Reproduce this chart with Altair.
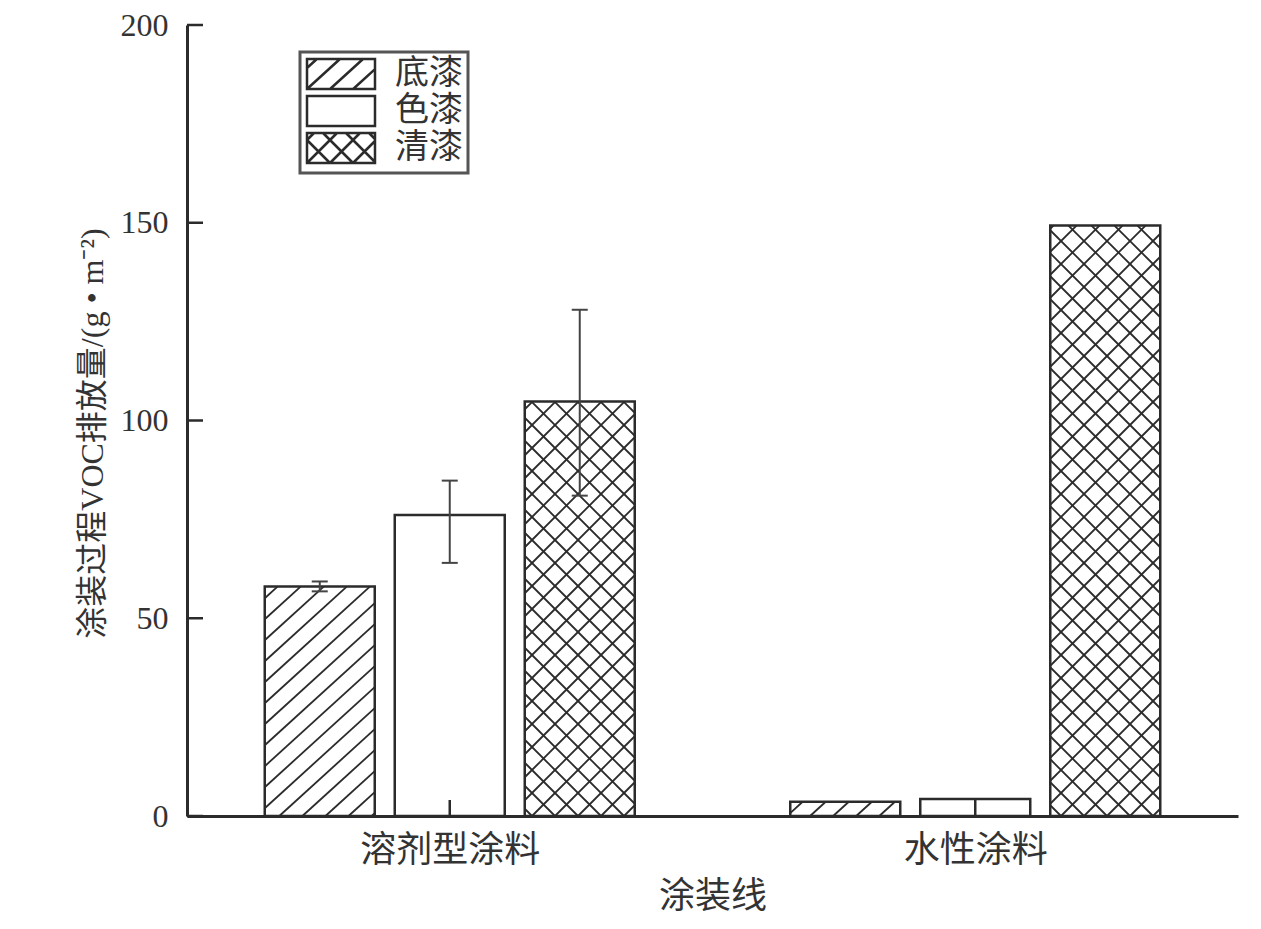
import math
import altair as alt
import pandas as pd

# ---------------- data ----------------
groups = ["溶剂型涂料", "水性涂料"]
series = ["底漆", "色漆", "清漆"]
solvent_values = [58.0, 76.1, 104.8]
water_values = [3.6, 4.3, 149.3]
solvent_err_low = [56.8, 64.0, 81.0]
solvent_err_high = [59.3, 84.8, 128.0]
y_ticks = [0, 50, 100, 150, 200]

x_title = "涂装线"
y_title = "涂装过程VOC排放量/(g • m⁻²)"

# ---------------- layout / style ----------------
W, H = 1051, 791
X_MAX = 4.0
Y_MAX = 200.0
PXU = W / X_MAX
PYU = H / Y_MAX
BAR_STEP = 130
BAR_W = 110
CAP = 8
TICK_LEN = 16
FONT = "'Liberation Serif', 'Noto Sans CJK SC'"
INK = "#2b2b2b"
TEXT = "#333333"

# hatch styles per series: (slope in px, vertical spacing in px)
hatch_styles = {"底漆": [(0.91, 21.0)], "色漆": [], "清漆": [(1.0, 23.0), (-1.0, 23.0)]}


def hatch_segments(X0, X1, Y0, Y1, slope, spacing):
    corners = [(X0, Y0), (X0, Y1), (X1, Y0), (X1, Y1)]
    ks = [y - slope * x for x, y in corners]
    n0 = math.ceil(min(ks) / spacing)
    n1 = math.floor(max(ks) / spacing)
    segs = []
    for n in range(n0, n1 + 1):
        k = n * spacing
        a, b = (Y0 - k) / slope, (Y1 - k) / slope
        lo, hi = max(X0, min(a, b)), min(X1, max(a, b))
        if hi - lo > 0.5:
            segs.append((lo, slope * lo + k, hi, slope * hi + k))
    return segs


# bars table
rows = []
for gi, (g, vals) in enumerate(zip(groups, [solvent_values, water_values])):
    for si, (s, v) in enumerate(zip(series, vals)):
        xc = 2 * gi + 1 + (si - 1) * BAR_STEP / PXU
        rows.append(dict(group=g, series=s, value=v, xc=xc,
                         x0=xc - BAR_W / 2 / PXU, x1=xc + BAR_W / 2 / PXU))
bars = pd.DataFrame(rows)

# hatch lines table (derived from the bars through the pixel/scale ratio)
hrows = []
for r in rows:
    for slope, spacing in hatch_styles[r["series"]]:
        for xa, ya, xb, yb in hatch_segments(r["x0"] * PXU, r["x1"] * PXU, 0, r["value"] * PYU, slope, spacing):
            hrows.append(dict(x0=xa / PXU, x1=xb / PXU, value=ya / PYU, v2=yb / PYU))
hatch = pd.DataFrame(hrows)

# error bars (solvent group only)
erows, crows = [], []
for si, s in enumerate(series):
    xc = bars[(bars.group == groups[0]) & (bars.series == s)].xc.iloc[0]
    erows.append(dict(x0=xc, value=solvent_err_low[si], v2=solvent_err_high[si]))
    for yv in (solvent_err_low[si], solvent_err_high[si]):
        crows.append(dict(x0=xc - CAP / PXU, x1=xc + CAP / PXU, value=yv))
errs = pd.DataFrame(erows)
caps = pd.DataFrame(crows)

yt = pd.DataFrame({"value": y_ticks})
xt = pd.DataFrame({"x0": [2 * i + 1 for i in range(len(groups))]})

# legend swatch paths
SW, SH, SU = 68, 30, 15


def swatch_path(styles):
    right = SW / SU - 1
    p = f"M-1,-1H{right:.3f}V1H-1Z"
    for slope, spacing in styles:
        for xa, ya, xb, yb in hatch_segments(0, SW, 0, SH, slope, spacing):
            p += f"M{xa / SU - 1:.3f},{1 - ya / SU:.3f}L{xb / SU - 1:.3f},{1 - yb / SU:.3f}"
    return p


paths = [swatch_path(hatch_styles[s]) for s in series]

# axis label expression
label_expr = "''"
for gi in reversed(range(len(groups))):
    label_expr = f"datum.value == {2 * gi + 1} ? '{groups[gi]}' : {label_expr}"

xs = alt.Scale(domain=[0, X_MAX], nice=False, zero=False)
ys = alt.Scale(domain=[0, Y_MAX], nice=False, zero=False)

x_axis = alt.Axis(values=[2 * i + 1 for i in range(len(groups))], labelExpr=label_expr,
                  ticks=False, grid=False, labelPadding=17, labelFontSize=36, labelFlush=False,
                  labelLimit=600, labelAngle=0, domainColor=INK, domainWidth=3, title=x_title,
                  titleFontSize=36, titleY=80, titleBaseline="middle", titleFontWeight="normal")
y_axis = alt.Axis(values=y_ticks, ticks=False, grid=False, labelPadding=19, labelFontSize=32,
                  domainColor=INK, domainWidth=3, title=y_title, titleFontSize=32,
                  titleLimit=800, titleX=-95, titleY=408, titleAlign="center",
                  titleBaseline="middle", titleAngle=270, titleFontWeight="normal")


def X(field):
    return alt.X(field, type="quantitative", scale=xs, axis=x_axis)


def Y(field):
    return alt.Y(field, type="quantitative", scale=ys, axis=y_axis)


fill_layer = alt.Chart(bars).mark_rect(fill="white").encode(
    x=X("x0"), x2="x1:Q", y=Y("value"), y2=alt.datum(0))

hatch_layer = alt.Chart(hatch).mark_rule(stroke=INK, strokeWidth=1.8).encode(
    x=X("x0"), x2="x1:Q", y=Y("value"), y2="v2:Q")

outline_layer = alt.Chart(bars).mark_rect(fill="white", fillOpacity=0, stroke=INK, strokeWidth=2.5).encode(
    x=X("x0"), x2="x1:Q", y=Y("value"), y2=alt.datum(0))

err_layer = alt.Chart(errs).mark_rule(stroke="#444444", strokeWidth=2).encode(
    x=X("x0"), y=Y("value"), y2="v2:Q")

cap_layer = alt.Chart(caps).mark_rule(stroke="#444444", strokeWidth=2).encode(
    x=X("x0"), x2="x1:Q", y=Y("value"))

ytick_layer = alt.Chart(yt).mark_rule(stroke=INK, strokeWidth=2.5).encode(
    x=alt.value(0), x2=alt.value(TICK_LEN), y=Y("value"))

xtick_layer = alt.Chart(xt).mark_rule(stroke=INK, strokeWidth=2.5).encode(
    x=X("x0"), y=alt.value(H), y2=alt.value(H - TICK_LEN))

legend_layer = alt.Chart(bars).mark_point(filled=False, opacity=0, color=INK, strokeWidth=2.5).encode(
    x=X("x0"), y=Y("value"),
    shape=alt.Shape("series:N", scale=alt.Scale(domain=series, range=paths),
                    legend=alt.Legend(title=None, orient="none", legendX=113, legendY=27,
                                      symbolSize=900, symbolStrokeWidth=2.5, symbolStrokeColor=INK,
                                      symbolOpacity=1, labelFontSize=34, labelOffset=56,
                                      rowPadding=-6, padding=5, strokeColor="#555555",
                                      fillColor="white")))

chart = alt.layer(fill_layer, hatch_layer, outline_layer, err_layer, cap_layer,
                  ytick_layer, xtick_layer, legend_layer).properties(
    width=W, height=H,
    autosize=alt.AutoSizeParams(type="none"),
    padding={"left": 179, "top": 17, "right": 15, "bottom": 100},
).configure_view(stroke=None).configure_axis(
    labelFont=FONT, titleFont=FONT, labelColor=TEXT, titleColor=TEXT
).configure_legend(labelFont=FONT, labelColor=TEXT, strokeWidth=3)

chart.save("out.html", embed_options={"renderer": "svg", "actions": False})
